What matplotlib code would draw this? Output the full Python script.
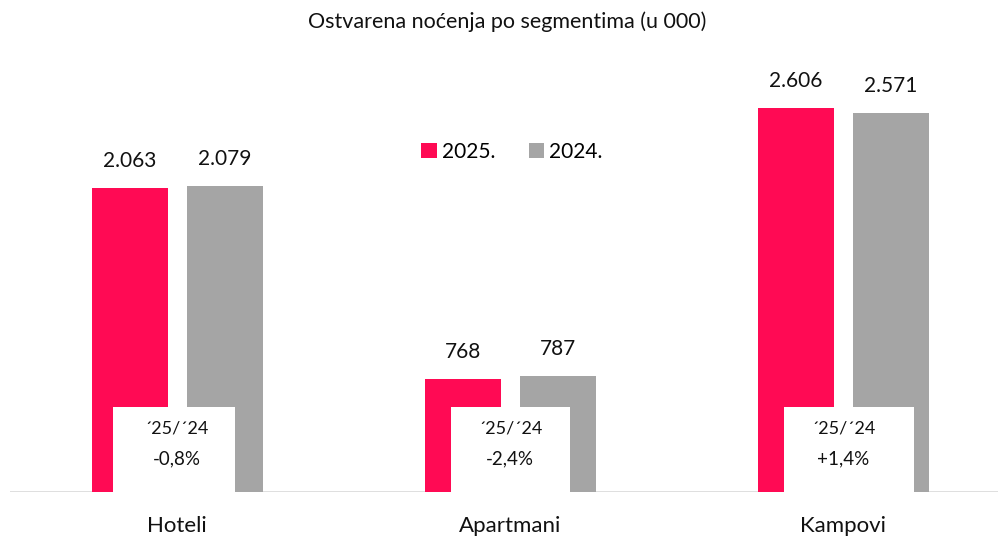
import matplotlib
matplotlib.use("Agg")
import matplotlib.pyplot as plt
from matplotlib.patches import Rectangle, Patch

categories = ["Hoteli", "Apartmani", "Kampovi"]
values_2025 = [2063, 768, 2606]
values_2024 = [2079, 787, 2571]
changes = ["-0,8%", "-2,4%", "+1,4%"]
series_names = ["2025.", "2024."]
title = "Ostvarena noćenja po segmentima (u 000)"

RED = "#FF0A54"
GRAY = "#A5A5A5"
FONT = ["Lato", "DejaVu Sans"]
plt.rcParams["font.family"] = FONT

W, H = 998, 536
fig = plt.figure(figsize=(W / 100, H / 100), dpi=100)
ax = fig.add_axes([10 / W, 44 / H, (998 - 10) / W, (536 - 44) / H])
ax.set_xlim(-0.5015, 2.465)
ax.set_ylim(0, 3338)
ax.axis("off")

x = list(range(len(categories)))
bw = 0.228
x25 = [i - 0.141 for i in x]
x24 = [i + 0.143 for i in x]
ax.bar(x25, values_2025, width=bw, color=RED, zorder=2)
ax.bar(x24, values_2024, width=bw, color=GRAY, zorder=2)

ax.axhline(0, color="#D9D9D9", lw=1.2, zorder=1)

def fmt(v):
    return f"{v:,}".replace(",", ".")

for xi, v in zip(x25, values_2025):
    ax.annotate(fmt(v), (xi, v), xytext=(0, 12), textcoords="offset points",
                ha="center", va="bottom", fontsize=15, color="#111111")
for xi, v in zip(x24, values_2024):
    ax.annotate(fmt(v), (xi, v), xytext=(0, 12), textcoords="offset points",
                ha="center", va="bottom", fontsize=15, color="#111111")

# white comparison boxes
box_h = 575
box_offsets = [(-0.192, 0.366), (-0.177, 0.357), (-0.177, 0.39)]
for i, ch, (off, bwid) in zip(x, changes, box_offsets):
    ax.add_patch(Rectangle((i + off, -10), bwid, box_h + 10, facecolor="white",
                           edgecolor="none", zorder=3))
    ax.text(i, 430, "´25/´24", ha="center", va="center", fontsize=13, zorder=4,
            color="#111111")
    ax.text(i, 225, ch, ha="center", va="center", fontsize=13.5, zorder=4,
            color="#111111")

# category labels
for i, c in zip(x, categories):
    ax.text(i, -230, c, ha="center", va="center", fontsize=16, color="#111111")

fig.text(0.508, 1 - 22 / H, title, ha="center", va="center", fontsize=15.5, color="#111111")

# legend
handles = [Patch(facecolor=RED, edgecolor="none"), Patch(facecolor=GRAY, edgecolor="none")]
fig.legend(handles, series_names, loc="center", bbox_to_anchor=(512 / W, 1 - 152 / H),
           ncol=2, frameon=False, fontsize=15, handlelength=0.75, handleheight=0.75,
           handletextpad=0.25, columnspacing=1.6)

fig.savefig("out.png", dpi=100)
